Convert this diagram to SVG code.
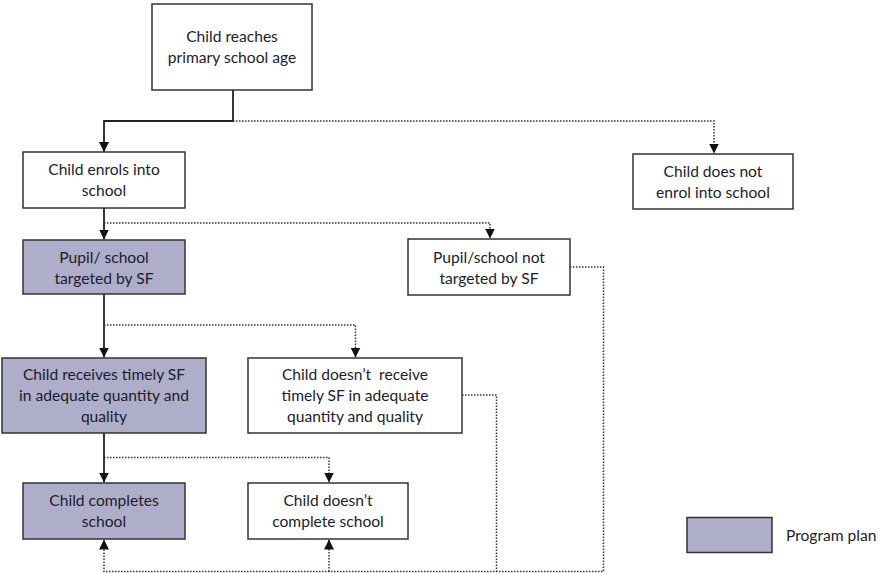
<svg xmlns="http://www.w3.org/2000/svg" width="885" height="573" viewBox="0 0 885 573">
<defs>
<marker id="ah" viewBox="0 0 10 10" refX="10" refY="5" markerWidth="10" markerHeight="10" markerUnits="userSpaceOnUse" orient="auto">
<path d="M0,0 L10,5 L0,10 Z" fill="#111"/>
</marker>
</defs>
<style>
.box{fill:#fff;stroke:#333;stroke-width:1.5}
.plan{fill:#aeaeca;stroke:#333;stroke-width:1.5}
.t{font-family:Lato,"Liberation Sans",sans-serif;font-size:15.6px;fill:#1c1c2c;text-anchor:middle}
.tl{font-family:Lato,"Liberation Sans",sans-serif;font-size:15.6px;fill:#1c1c2c}
.solid{fill:none;stroke:#222;stroke-width:1.8}
.dot{fill:none;stroke:#333;stroke-width:1.5;stroke-dasharray:1.5 1.5}
</style>
<rect width="885" height="573" fill="#fff"/>
<g id="connectors">
<path class="solid" d="M233,90 V121 H104 V152" marker-end="url(#ah)"/>
<path class="dot" d="M233,121 H714 V153.5" marker-end="url(#ah)"/>
<path class="solid" d="M104,208 V239.5" marker-end="url(#ah)"/>
<path class="dot" d="M104,223 H490 V238.5" marker-end="url(#ah)"/>
<path class="solid" d="M104,294 V357.5" marker-end="url(#ah)"/>
<path class="dot" d="M104,325 H355.5 V357.5" marker-end="url(#ah)"/>
<path class="solid" d="M104,433 V482.5" marker-end="url(#ah)"/>
<path class="dot" d="M104,457.5 H329 V482.5" marker-end="url(#ah)"/>
<path class="dot" d="M570,267 H603.5 V571.5 H104 V539.5" marker-end="url(#ah)"/>
<path class="dot" d="M462,395 H496.5 V571.5"/>
<path class="dot" d="M329,571.5 V539.5" marker-end="url(#ah)"/>
</g>
<g id="n-age">
<rect class="box" x="152" y="4" width="160" height="86"/>
<text class="t" x="232" y="41.5">Child reaches</text>
<text class="t" x="232" y="62.5">primary school age</text>
</g>
<g id="n-enrol">
<rect class="box" x="23" y="152" width="162" height="56"/>
<text class="t" x="104" y="174.5">Child enrols into</text>
<text class="t" x="104" y="195.5">school</text>
</g>
<g id="n-notenrol">
<rect class="box" x="633" y="154" width="160" height="55"/>
<text class="t" x="713" y="176.5">Child does not</text>
<text class="t" x="713" y="197.5">enrol into school</text>
</g>
<g id="n-targeted">
<rect class="plan" x="23" y="240" width="162" height="54"/>
<text class="t" x="104" y="262.5">Pupil/ school</text>
<text class="t" x="104" y="283.5">targeted by SF</text>
</g>
<g id="n-nottargeted">
<rect class="box" x="408" y="239" width="162" height="56"/>
<text class="t" x="489" y="262.5">Pupil/school not</text>
<text class="t" x="489" y="283.5">targeted by SF</text>
</g>
<g id="n-receives">
<rect class="plan" x="2" y="358" width="204" height="75"/>
<text class="t" x="104" y="379.5">Child receives timely SF</text>
<text class="t" x="104" y="400.5">in adequate quantity and</text>
<text class="t" x="104" y="421.5">quality</text>
</g>
<g id="n-notreceive">
<rect class="box" x="248" y="358" width="214" height="75"/>
<text class="t" x="355" y="379.5" xml:space="preserve">Child doesn’t  receive</text>
<text class="t" x="355" y="400.5">timely SF in adequate</text>
<text class="t" x="355" y="421.5">quantity and quality</text>
</g>
<g id="n-completes">
<rect class="plan" x="23" y="483" width="162" height="56"/>
<text class="t" x="104" y="505.5">Child completes</text>
<text class="t" x="104" y="526.5">school</text>
</g>
<g id="n-notcomplete">
<rect class="box" x="248" y="483" width="160" height="56"/>
<text class="t" x="328" y="505.5">Child doesn’t</text>
<text class="t" x="328" y="526.5">complete school</text>
</g>
<g id="legend">
<rect class="plan" x="687" y="517.5" width="85" height="35"/>
<text class="tl" x="786" y="540.5">Program plan</text>
</g>
</svg>
